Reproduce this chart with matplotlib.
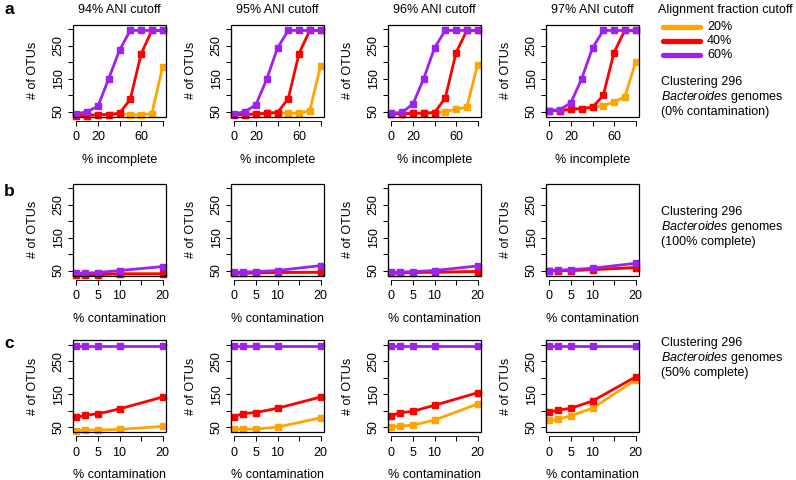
import matplotlib
matplotlib.use("Agg")
import matplotlib.pyplot as plt
from matplotlib.lines import Line2D
from matplotlib.patches import Rectangle

plt.rcParams['font.family'] = ['Liberation Sans', 'DejaVu Sans']
plt.rcParams['mathtext.fontset'] = 'custom'
plt.rcParams['mathtext.rm'] = 'Liberation Sans'
plt.rcParams['mathtext.it'] = 'Liberation Sans:italic'

# ---- data ----
ani_cutoffs = ["94% ANI cutoff", "95% ANI cutoff", "96% ANI cutoff", "97% ANI cutoff"]
af_labels = ["20%", "40%", "60%"]
af_colors = ["#FFA500", "#FF0000", "#A020F0"]

pct_incomplete = [0, 10, 20, 30, 40, 50, 60, 70, 80]
pct_contamination = [0, 2, 5, 10, 20]

# row a: vary completeness (0% contamination), one list per ANI cutoff
# (20% values hidden under the 40% line are taken as equal to it)
a_af20 = [[38, 38, 41, 41, 43, 41, 41, 43, 185],
          [41, 41, 43, 45, 47, 45, 45, 53, 188],
          [43, 43, 45, 45, 47, 50, 57, 63, 192],
          [53, 53, 57, 59, 63, 67, 80, 94, 199]]
a_af40 = [[38, 38, 41, 41, 45, 87, 224, 296, 296],
          [41, 41, 43, 45, 47, 89, 226, 296, 296],
          [43, 43, 45, 45, 47, 91, 228, 296, 296],
          [53, 53, 57, 59, 63, 99, 229, 296, 296]]
a_af60 = [[43, 50, 66, 150, 236, 296, 296, 296, 296],
          [43, 50, 71, 148, 243, 296, 296, 296, 296],
          [45, 48, 73, 150, 243, 296, 296, 296, 296],
          [53, 56, 77, 150, 243, 296, 296, 296, 296]]

# row b: vary contamination (100% complete)
b_af20 = [[37, 37, 38, 40, 40],
          [42, 42, 43, 44, 45],
          [43, 43, 44, 45, 47],
          [50, 50, 50, 53, 59]]
b_af40 = [[37, 37, 38, 40, 40],
          [42, 42, 43, 44, 45],
          [43, 43, 44, 45, 47],
          [50, 50, 50, 53, 59]]
b_af60 = [[42, 42, 44, 50, 62],
          [45, 45, 47, 50, 65],
          [45, 45, 47, 50, 64],
          [50, 51, 53, 57, 72]]

# row c: vary contamination (50% complete)
c_af20 = [[39, 41, 41, 43, 52],
          [44, 44, 44, 50, 78],
          [50, 53, 56, 71, 120],
          [70, 73, 85, 107, 193]]
c_af40 = [[79, 86, 90, 105, 141],
          [82, 91, 94, 107, 141],
          [85, 93, 98, 116, 154],
          [95, 101, 107, 129, 202]]
c_af60 = [[296, 296, 296, 296, 296],
          [296, 296, 296, 296, 296],
          [296, 296, 296, 296, 296],
          [296, 296, 296, 296, 296]]

y_ticks = [50, 100, 150, 200, 250, 300]
y_ticklabels = ["50", "", "150", "", "250", ""]
inc_ticks = [0, 20, 40, 60, 80]
inc_ticklabels = ["0", "20", "", "60", ""]
con_ticks = [0, 5, 10, 15, 20]
con_ticklabels = ["0", "5", "10", "", "20"]

row_notes = ["(0% contamination)", "(100% complete)", "(50% complete)"]

# ---- layout (pixels) ----
W, H = 796, 480
fig = plt.figure(figsize=(W / 100, H / 100), dpi=100)
fs = 9


def fx(x):
    return x / W


def fy(y):
    return 1 - y / H


col_left = [73, 231, 388, 546]
row_top = [24.5, 183.5, 340]
box_w, box_h = 93, 92

rows = [
    (pct_incomplete, [a_af20, a_af40, a_af60], inc_ticks, inc_ticklabels, "% incomplete", (-3.2, 83.2)),
    (pct_contamination, [b_af20, b_af40, b_af60], con_ticks, con_ticklabels, "% contamination", (-0.8, 20.8)),
    (pct_contamination, [c_af20, c_af40, c_af60], con_ticks, con_ticklabels, "% contamination", (-0.8, 20.8)),
]

for r, (xs, series, xt, xtl, xlab, xlim) in enumerate(rows):
    for c in range(4):
        ax = fig.add_axes([fx(col_left[c]), fy(row_top[r] + box_h), box_w / W, box_h / H])
        for k in range(3):
            ax.plot(xs, series[k][c], "-s", color=af_colors[k], lw=2.0, ms=4.8,
                    mec=af_colors[k], clip_on=False)
        ax.set_xlim(*xlim)
        ax.set_ylim(35, 314)
        ax.set_xticks(xt)
        ax.set_xticklabels(xtl)
        ax.set_yticks(y_ticks)
        ax.set_yticklabels(y_ticklabels, rotation=90, va="center")
        ax.tick_params(direction="out", length=3.5, width=0.75, labelsize=fs, colors="black")
        ax.tick_params(axis="x", pad=4)
        ax.tick_params(axis="y", pad=2.5)
        # R-style: box around the plot, x axis drawn a little below it
        for s in ax.spines.values():
            s.set_linewidth(0.8)
        ax.spines["top"].set_visible(False)
        ax.spines["right"].set_visible(False)
        ax.spines["left"].set_bounds(y_ticks[0], y_ticks[-1])
        ax.spines["bottom"].set_position(("outward", 3))
        ax.spines["bottom"].set_bounds(xt[0], xt[-1])
        ax.spines["bottom"].set_linewidth(0.6)
        ax.add_patch(Rectangle((0, 0), 1, 1, transform=ax.transAxes, fill=False,
                               lw=0.9, ec="black", clip_on=False, zorder=3))
        ax.text(0.5, -43 / box_h, xlab, transform=ax.transAxes, ha="center", va="center", fontsize=fs)
        ax.text(-40 / box_w, 0.5, "# of OTUs", transform=ax.transAxes, ha="center", va="center",
                rotation=90, fontsize=fs)
        if r == 0:
            ax.text(0.5, 1 + 14.5 / box_h, ani_cutoffs[c], transform=ax.transAxes,
                    ha="center", va="center", fontsize=fs)

# panel letters
for letter, y in zip(["a", "b", "c"], [9, 192, 344]):
    fig.text(fx(9), fy(y), letter, fontsize=12.5, fontweight="bold", ha="center", va="center")

# legend
fig.text(fx(658), fy(10), "Alignment fraction cutoff", fontsize=fs, ha="left", va="center")
for k, y in enumerate([27, 41, 55]):
    fig.add_artist(Line2D([fx(663), fx(700)], [fy(y), fy(y)], color=af_colors[k], lw=3.8,
                          solid_capstyle="round", transform=fig.transFigure))
    fig.text(fx(707), fy(y), af_labels[k], fontsize=fs, ha="left", va="center")

# row notes
for note, y0 in zip(row_notes, [82, 212, 343]):
    fig.text(fx(661), fy(y0), "Clustering 296", fontsize=fs, ha="left", va="center")
    fig.text(fx(661), fy(y0 + 15), r"$\it{Bacteroides}$ genomes", fontsize=fs, ha="left", va="center")
    fig.text(fx(661), fy(y0 + 30), note, fontsize=fs, ha="left", va="center")

fig.savefig("out.png", dpi=100)
plt.close(fig)
